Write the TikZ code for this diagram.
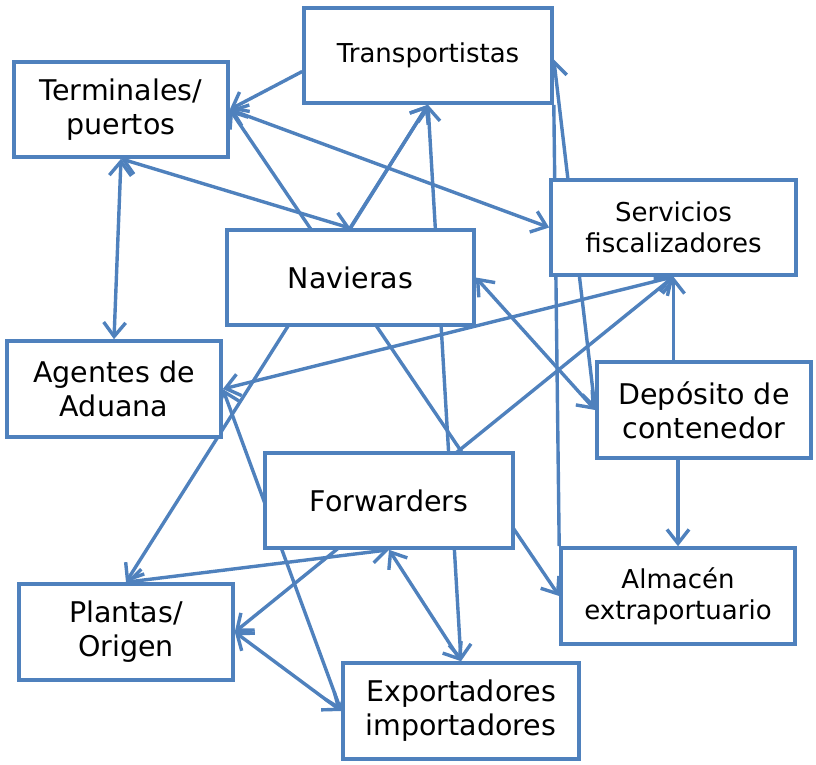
\documentclass[tikz,border=0pt]{standalone}
\usepackage{fontspec}
\setmainfont{DejaVu Sans}
\usetikzlibrary{arrows.meta,backgrounds,calc}
\definecolor{ob}{RGB}{79,129,189}
\begin{document}
\begin{tikzpicture}[x=1pt,y=-1pt,
  box/.style={draw=ob,line width=3.6pt,fill=white,align=center,inner sep=0pt},
  big/.style={font=\fontsize{28.5}{34}\selectfont},
  small/.style={font=\fontsize{26}{31}\selectfont},
  conn/.style={draw=ob,line width=3.4pt},
  >={Straight Barb[length=14pt,width=22pt]}]
\useasboundingbox (0,0) rectangle (816,765);
\node[box,small,minimum width=248pt,minimum height=95pt] (trans) at (428,55.5) {Transportistas};
\node[box,big,minimum width=214pt,minimum height=95pt] (term) at (121,109.5) {Terminales/\\puertos};
\node[box,small,minimum width=245pt,minimum height=95pt] (serv) at (673.5,227.5) {Servicios\\fiscalizadores};
\node[box,big,minimum width=247pt,minimum height=95pt] (nav) at (350.5,277.5) {Navieras};
\node[box,big,minimum width=214pt,minimum height=96pt] (ag) at (114,389) {Agentes de\\Aduana};
\node[box,big,minimum width=214pt,minimum height=96pt] (dep) at (704,410) {Depósito de\\contenedor};
\node[box,big,minimum width=248pt,minimum height=95pt] (fwd) at (389,500.5) {Forwarders};
\node[box,big,minimum width=214pt,minimum height=96pt] (plan) at (126,632) {Plantas/\\Origen};
\node[box,small,minimum width=234pt,minimum height=96pt] (alm) at (678,596) {Almacén\\extraportuario};
\node[box,big,minimum width=236pt,minimum height=96pt] (exp) at (461,711) {Exportadores\\importadores};
\begin{scope}[on background layer]
\draw[conn,->] ($(trans.west)+(0,16)$) -- (term.east);
\draw[conn,<->] (term.east) -- (serv.west);
\draw[conn,<->] (term.south) -- (nav.north);
\draw[conn,<->] (term.south) -- (ag.north);
\draw[conn,<->] (term.east) -- (alm.west);
\draw[conn,->] (nav.north) -- (trans.south);
\draw[conn,<->] (plan.north) -- (trans.south);
\draw[conn,<->] (trans.south) -- (exp.north);
\draw[conn,<->] ($(trans.east)+(0,4)$) -- (dep.west);
\draw[conn] (alm.north west) -- (trans.south east);
\draw[conn,<->] (nav.east) -- (dep.west);
\draw[conn,->] (serv.south |- dep.north) -- (serv.south);
\draw[conn,->] (dep.south -| alm.north) -- (alm.north);
\draw[conn,<->] (ag.east) -- (serv.south);
\draw[conn,<->] (plan.east) -- (serv.south);
\draw[conn,<->] (plan.east) -- (exp.west);
\draw[conn,<->] (ag.east) -- (exp.west);
\draw[conn,<->] (plan.north) -- (fwd.south);
\draw[conn,<->] (fwd.south) -- (exp.north);
\end{scope}
\end{tikzpicture}
\end{document}
